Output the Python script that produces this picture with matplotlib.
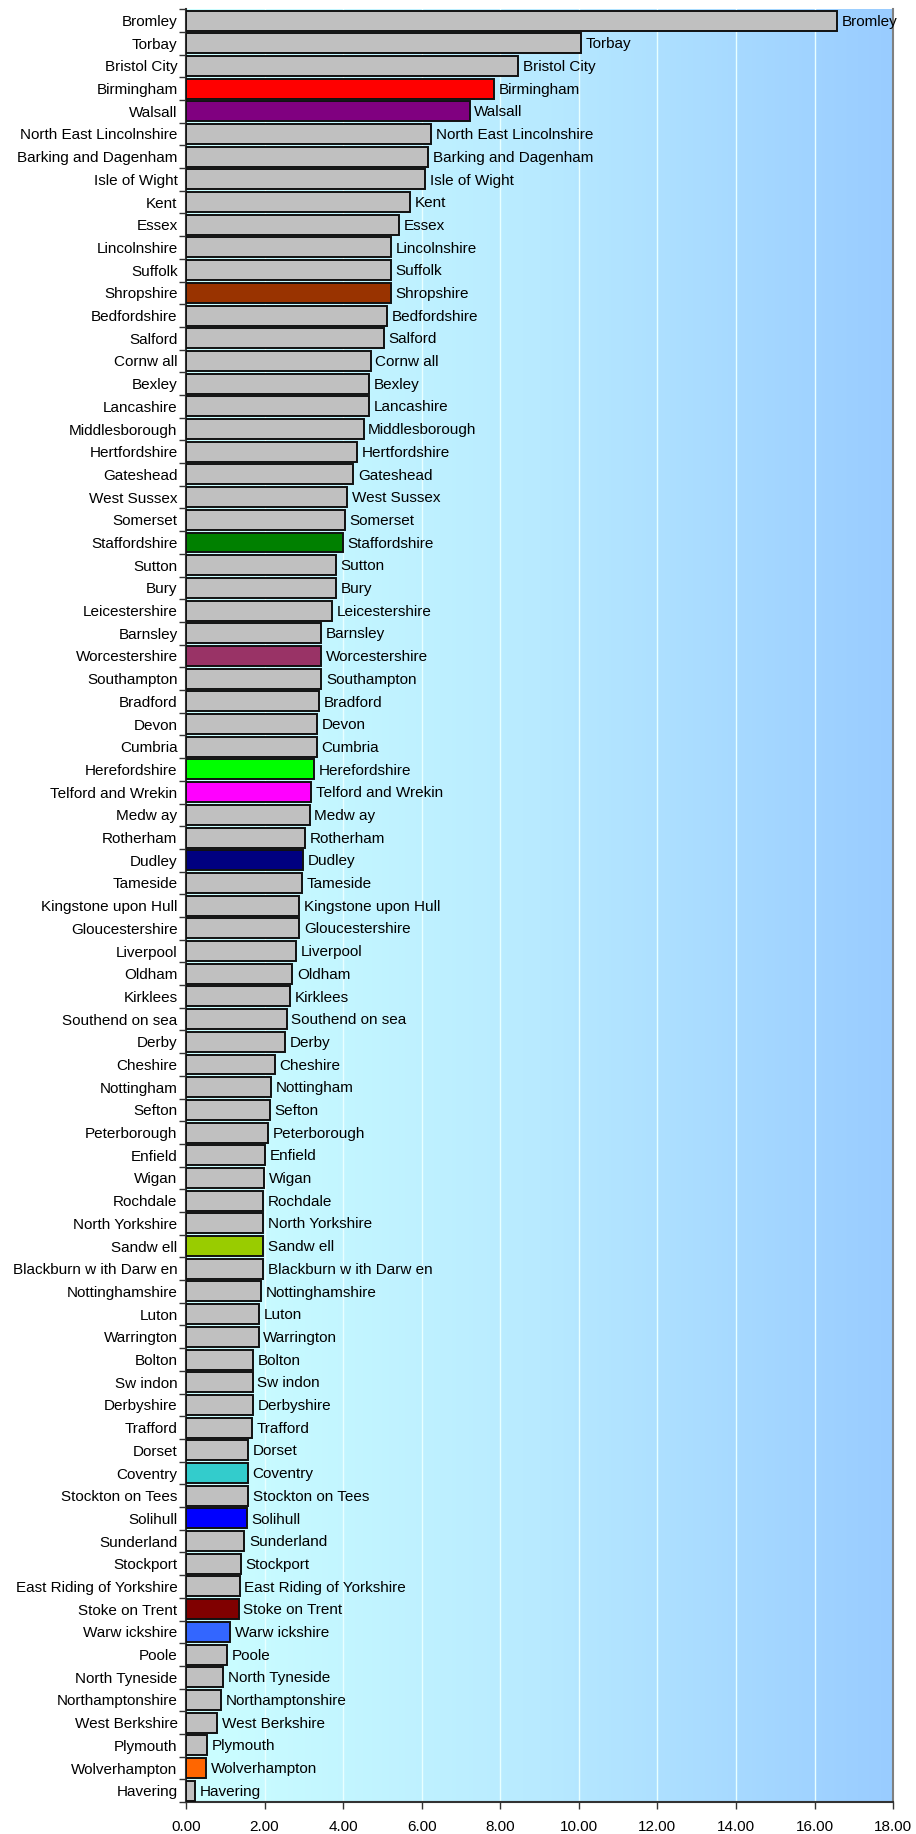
import matplotlib
matplotlib.use("Agg")
import matplotlib.pyplot as plt
import numpy as np
from matplotlib.colors import LinearSegmentedColormap

# category names as they appear in the chart (top to bottom)
names = ["Bromley", "Torbay", "Bristol City", "Birmingham", "Walsall",
         "North East Lincolnshire", "Barking and Dagenham", "Isle of Wight", "Kent", "Essex",
         "Lincolnshire", "Suffolk", "Shropshire", "Bedfordshire", "Salford",
         "Cornw all", "Bexley", "Lancashire", "Middlesborough", "Hertfordshire",
         "Gateshead", "West Sussex", "Somerset", "Staffordshire", "Sutton",
         "Bury", "Leicestershire", "Barnsley", "Worcestershire", "Southampton",
         "Bradford", "Devon", "Cumbria", "Herefordshire", "Telford and Wrekin",
         "Medw ay", "Rotherham", "Dudley", "Tameside", "Kingstone upon Hull",
         "Gloucestershire", "Liverpool", "Oldham", "Kirklees", "Southend on sea",
         "Derby", "Cheshire", "Nottingham", "Sefton", "Peterborough",
         "Enfield", "Wigan", "Rochdale", "North Yorkshire", "Sandw ell",
         "Blackburn w ith Darw en", "Nottinghamshire", "Luton", "Warrington", "Bolton",
         "Sw indon", "Derbyshire", "Trafford", "Dorset", "Coventry",
         "Stockton on Tees", "Solihull", "Sunderland", "Stockport", "East Riding of Yorkshire",
         "Stoke on Trent", "Warw ickshire", "Poole", "North Tyneside", "Northamptonshire",
         "West Berkshire", "Plymouth", "Wolverhampton", "Havering"]

values = [16.58, 10.06, 8.45, 7.83, 7.22,
          6.25, 6.16, 6.08, 5.71, 5.42,
          5.21, 5.21, 5.21, 5.12, 5.03,
          4.70, 4.67, 4.67, 4.52, 4.35,
          4.26, 4.11, 4.05, 3.99, 3.81,
          3.81, 3.72, 3.45, 3.45, 3.45,
          3.39, 3.33, 3.33, 3.27, 3.18,
          3.15, 3.04, 2.98, 2.95, 2.89,
          2.89, 2.80, 2.71, 2.65, 2.56,
          2.53, 2.26, 2.17, 2.14, 2.08,
          2.02, 1.99, 1.96, 1.96, 1.96,
          1.96, 1.90, 1.85, 1.85, 1.70,
          1.70, 1.70, 1.67, 1.58, 1.58,
          1.58, 1.55, 1.49, 1.40, 1.37,
          1.34, 1.13, 1.04, 0.95, 0.89,
          0.80, 0.54, 0.51, 0.24]

# highlighted authorities, everything else is grey
highlight = {"Birmingham": "#FF0000", "Walsall": "#800080", "Shropshire": "#993300",
             "Staffordshire": "#008000", "Worcestershire": "#993366", "Herefordshire": "#00FF00",
             "Telford and Wrekin": "#FF00FF", "Dudley": "#000080", "Sandw ell": "#99CC00",
             "Coventry": "#33CCCC", "Solihull": "#0000FF", "Stoke on Trent": "#800000",
             "Warw ickshire": "#3366FF", "Wolverhampton": "#FF6600"}

xticks = np.arange(0, 18.01, 2)

plt.rcParams["font.family"] = ["Liberation Sans", "DejaVu Sans"]

fig = plt.figure(figsize=(9.16, 18.34), dpi=100)
ax = fig.add_axes([0.203, 0.0174, 0.772, 0.9776])

n = len(names)
y = np.arange(n)
colors = [highlight.get(nm, "#C0C0C0") for nm in names]

# background gradient (cyan to light blue)
cmap = LinearSegmentedColormap.from_list("bg", ["#CCFFFF", "#B8EAFF", "#99CCFF"])
grad = np.linspace(0, 1, 256).reshape(1, -1)
ax.imshow(grad, cmap=cmap, aspect="auto", extent=(0, 18, n - 0.5, -0.5), zorder=0)

# vertical white gridlines
for xv in xticks[1:-1]:
    ax.axvline(xv, color="#E8FFFF", lw=1.0, zorder=1)

ax.barh(y, values, height=0.88, color=colors, edgecolor="#111111", linewidth=1.4, zorder=3)

for yi, v, nm in zip(y, values, names):
    ax.text(v + 0.12, yi + 0.05, nm, va="center", ha="left", fontsize=11, color="black", zorder=4)

ax.set_xlim(0, 18)
ax.set_ylim(n - 0.5, -0.5)

ax.set_yticks(y)
ax.set_yticklabels(names, fontsize=11)
ax.set_yticks(np.arange(-0.5, n, 1), minor=True)
ax.tick_params(axis="y", which="major", length=0, pad=6)
ax.tick_params(axis="y", which="minor", length=5, width=1, color="#333333")

ax.set_xticks(xticks)
ax.set_xticklabels([f"{t:.2f}" for t in xticks], fontsize=11)
ax.tick_params(axis="x", length=5, width=1, color="#333333", pad=8)

for side in ["left", "bottom"]:
    ax.spines[side].set_color("#333333")
    ax.spines[side].set_linewidth(1.5)
ax.spines["right"].set_color("#808080")
ax.spines["right"].set_linewidth(1.5)
ax.spines["top"].set_visible(False)

fig.savefig("out.png", dpi=100)
